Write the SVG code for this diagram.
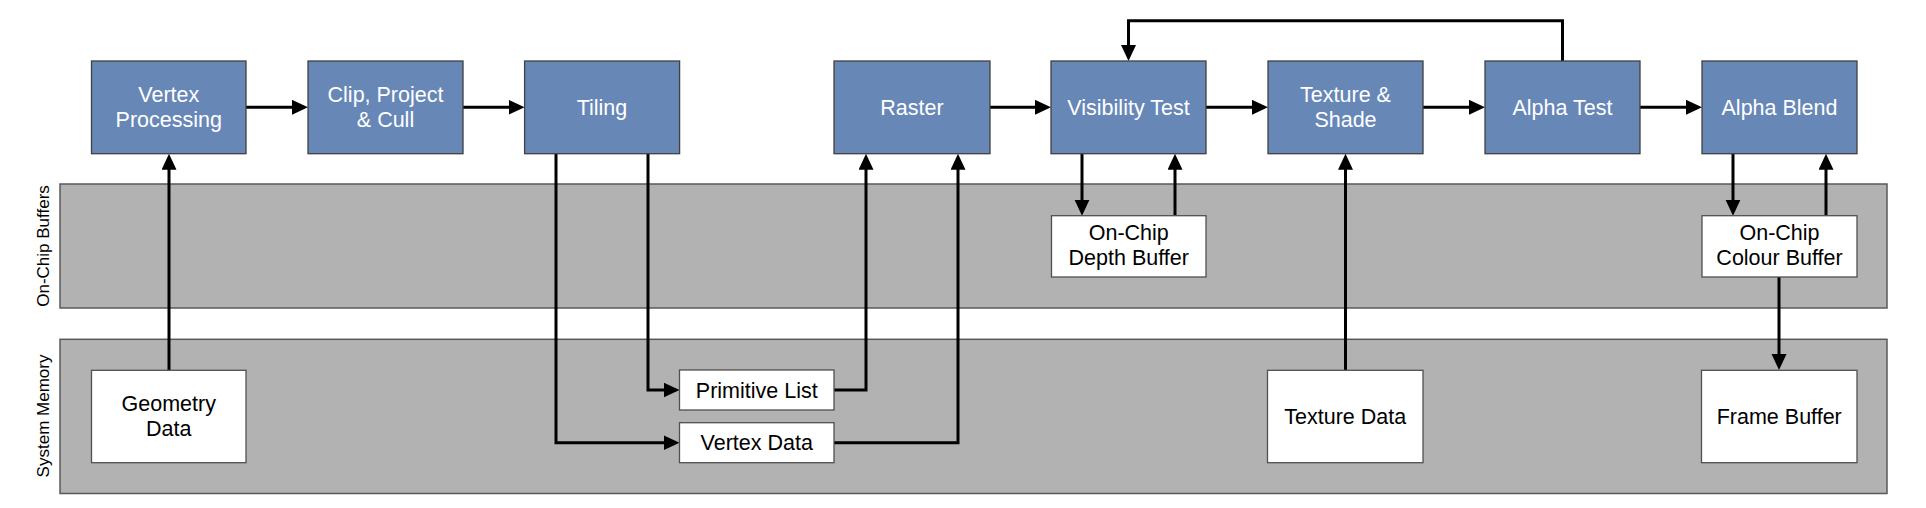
<svg xmlns="http://www.w3.org/2000/svg" width="1926" height="508" viewBox="0 0 1926 508">
<style>
.band{fill:#b2b2b2;stroke:#595959;stroke-width:1.5}
.proc{fill:#6787b7;stroke:#404040;stroke-width:1.3}
.store{fill:#ffffff;stroke:#505050;stroke-width:1.3}
.pt{font-family:"Liberation Sans",Arial,sans-serif;font-size:21.5px;fill:#ffffff;text-anchor:middle}
.st{font-family:"Liberation Sans",Arial,sans-serif;font-size:21.5px;fill:#000000;text-anchor:middle}
.lab{font-family:"Liberation Sans",Arial,sans-serif;font-size:17px;fill:#000000;text-anchor:middle}
.c{fill:none;stroke:#000000;stroke-width:3;marker-end:url(#ah)}
.cn{fill:none;stroke:#000000;stroke-width:3}
</style>
<defs>
<marker id="ah" markerUnits="userSpaceOnUse" markerWidth="17" markerHeight="16" refX="4" refY="7.5" orient="auto" viewBox="0 0 17 16">
<path d="M0,0 L16,7.5 L0,15 z" fill="#000000"/>
</marker>
</defs>

<g id="bands">
<rect class="band" x="60" y="184" width="1827" height="124"/>
<rect class="band" x="60" y="339.3" width="1827" height="154.2"/>
<text class="lab" transform="translate(48.5,246) rotate(-90)">On-Chip Buffers</text>
<text class="lab" transform="translate(48.5,416) rotate(-90)">System Memory</text>
</g>

<g id="connectors">
<path class="c" d="M246,107.3 H296"/>
<path class="c" d="M463,107.3 H512.6"/>
<path class="c" d="M990,107.3 H1039"/>
<path class="c" d="M1206,107.3 H1256"/>
<path class="c" d="M1423,107.3 H1473"/>
<path class="c" d="M1640,107.3 H1690"/>
<path class="c" d="M169,370 V165.7"/>
<path class="c" d="M556,153.7 V442.7 H667.5"/>
<path class="c" d="M648,153.7 V390 H667.5"/>
<path class="c" d="M834,390 H866 V165.7"/>
<path class="c" d="M834,442.7 H958 V165.7"/>
<path class="c" d="M1082,153.7 V203.7"/>
<path class="c" d="M1175,215.7 V165.7"/>
<path class="c" d="M1345.5,370 V165.7"/>
<path class="c" d="M1733,153.7 V203.7"/>
<path class="c" d="M1826,215.7 V165.7"/>
<path class="c" d="M1779,277 V358"/>
<path class="c" d="M1562.5,61 V20.7 H1128.5 V49"/>
</g>

<g id="vertex-processing">
<rect class="proc" x="91.5" y="61" width="154.5" height="92.7"/>
<text class="pt" x="168.75" y="101.5">Vertex</text>
<text class="pt" x="168.75" y="126.5">Processing</text>
</g>
<g id="clip-project-cull">
<rect class="proc" x="308" y="61" width="155" height="92.7"/>
<text class="pt" x="385.5" y="101.5">Clip, Project</text>
<text class="pt" x="385.5" y="126.5">&amp; Cull</text>
</g>
<g id="tiling">
<rect class="proc" x="524.6" y="61" width="155" height="92.7"/>
<text class="pt" x="602" y="114.5">Tiling</text>
</g>
<g id="raster">
<rect class="proc" x="834" y="61" width="156" height="92.7"/>
<text class="pt" x="912" y="114.5">Raster</text>
</g>
<g id="visibility-test">
<rect class="proc" x="1051" y="61" width="155" height="92.7"/>
<text class="pt" x="1128.5" y="114.5">Visibility Test</text>
</g>
<g id="texture-shade">
<rect class="proc" x="1268" y="61" width="155" height="92.7"/>
<text class="pt" x="1345.5" y="101.5">Texture &amp;</text>
<text class="pt" x="1345.5" y="126.5">Shade</text>
</g>
<g id="alpha-test">
<rect class="proc" x="1485" y="61" width="155" height="92.7"/>
<text class="pt" x="1562.5" y="114.5">Alpha Test</text>
</g>
<g id="alpha-blend">
<rect class="proc" x="1702" y="61" width="155" height="92.7"/>
<text class="pt" x="1779.5" y="114.5">Alpha Blend</text>
</g>

<g id="depth-buffer">
<rect class="store" x="1051.5" y="215.7" width="154.5" height="61.3"/>
<text class="st" x="1128.75" y="240">On-Chip</text>
<text class="st" x="1128.75" y="265">Depth Buffer</text>
</g>
<g id="colour-buffer">
<rect class="store" x="1702" y="215.7" width="155" height="61.3"/>
<text class="st" x="1779.5" y="240">On-Chip</text>
<text class="st" x="1779.5" y="265">Colour Buffer</text>
</g>
<g id="geometry-data">
<rect class="store" x="91.5" y="370.3" width="154.5" height="92.4"/>
<text class="st" x="168.75" y="410.5">Geometry</text>
<text class="st" x="168.75" y="435.5">Data</text>
</g>
<g id="primitive-list">
<rect class="store" x="679.5" y="370" width="154.5" height="40"/>
<text class="st" x="756.75" y="397.5">Primitive List</text>
</g>
<g id="vertex-data">
<rect class="store" x="679.5" y="422.7" width="154.5" height="40"/>
<text class="st" x="756.75" y="450.2">Vertex Data</text>
</g>
<g id="texture-data">
<rect class="store" x="1267.5" y="370.3" width="155.5" height="92.4"/>
<text class="st" x="1345.25" y="424">Texture Data</text>
</g>
<g id="frame-buffer">
<rect class="store" x="1701.5" y="370.3" width="155.5" height="92.4"/>
<text class="st" x="1779.25" y="424">Frame Buffer</text>
</g>
</svg>
